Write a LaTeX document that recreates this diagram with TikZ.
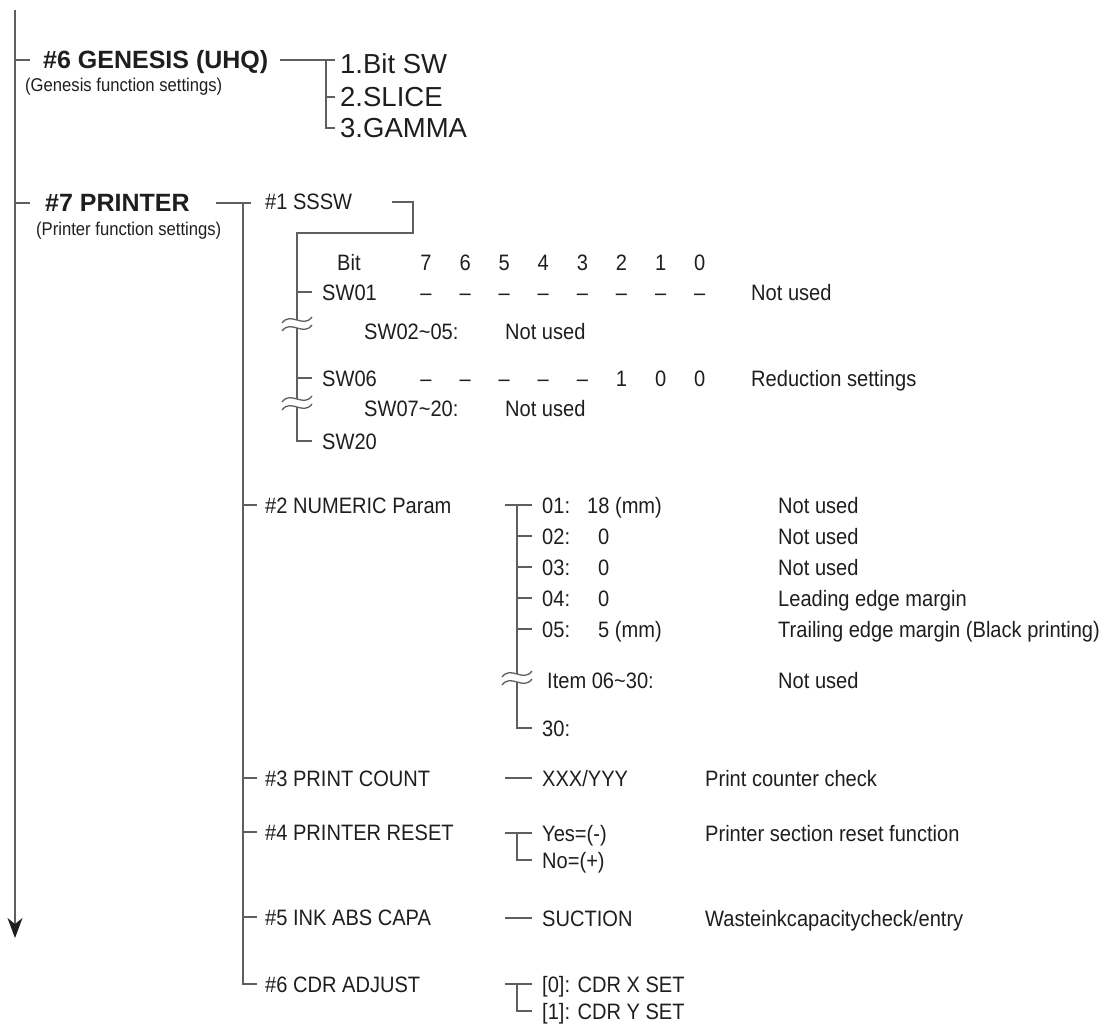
\documentclass[tikz,border=0pt]{standalone}
\usepackage{fontspec}
\usetikzlibrary{arrows.meta}
\newfontfamily\nar[FakeStretch=0.9]{Liberation Sans}
\newfontfamily\arl{Liberation Sans}
\definecolor{linec}{RGB}{95,95,95}
\definecolor{txtc}{RGB}{30,30,30}
\tikzset{
  ln/.style={draw=linec, line width=1.3pt},
  t/.style={inner sep=0pt, anchor=west, text=txtc, font=\nar\fontsize{22.3}{26}\selectfont, text height=16pt, text depth=0pt},
  tc/.style={t, anchor=center},
  sub/.style={t, font=\nar\fontsize{18.5}{22}\selectfont, text height=13.2pt},
  hd/.style={t, font=\arl\bfseries\fontsize{25}{30}\selectfont, text height=17.9pt},
  gi/.style={t, font=\arl\fontsize{27.5}{32}\selectfont, text height=19.7pt},
  brk/.pic={
    \draw[ln] (-15,-1) .. controls (-6,-13) and (6,5) .. (15,-7);
    \draw[ln] (-15,7) .. controls (-6,-5) and (6,13) .. (15,1);
  }
}
\begin{document}
\begin{tikzpicture}[x=1pt, y=-1pt]
\useasboundingbox (0,0) rectangle (1107,1032);

% main spine
\coordinate (top) at (15,10);
\coordinate (bot) at (15,938);
\draw[ln, -{Stealth[length=20pt,width=15pt,inset=6pt,color=txtc]}] (top) -- (bot);

% #6 GENESIS
\node[hd] (gen) at (43,60) {\#6 GENESIS (UHQ)};
\node[sub] (gens) at (25,85) {(Genesis function settings)};
\draw[ln] (top |- gen.west) -- ++(15,0);
\node[gi] (gi1) at (340,64) {1.Bit SW};
\node[gi] (gi2) at (340,97) {2.SLICE};
\node[gi] (gi3) at (340,128) {3.GAMMA};
\draw[ln] ([xshift=12pt]gen.east) -- ([xshift=-5pt]gen.east -| gi1.west);
\draw[ln] ([xshift=-14pt]gen.east -| gi1.west) |- ([xshift=-5pt]gi3.west);
\draw[ln] ([xshift=-14pt]gi2.west) -- ([xshift=-5pt]gi2.west);

% #7 PRINTER
\node[hd] (prn) at (45,203) {\#7 PRINTER};
\node[sub] (prns) at (36,229) {(Printer function settings)};
\draw[ln] (top |- prn.west) -- ++(15,0);

\node[t] (s1) at (265,202) {\#1 SSSW};
\node[t] (s2) at (265,505) {\#2 NUMERIC Param};
\node[t] (s3) at (265,778) {\#3 PRINT COUNT};
\node[t] (s4) at (265,832) {\#4 PRINTER RESET};
\node[t] (s5) at (265,917) {\#5 INK ABS CAPA};
\node[t] (s6) at (265,984) {\#6 CDR ADJUST};
\coordinate (ps) at (243,203);
\draw[ln] ([xshift=26pt]prn.east) -- ([xshift=-14pt]prn.east -| s1.west);
\draw[ln] (ps) |- ([xshift=-8pt]s6.west);
\foreach \s in {s2,s3,s4,s5}{\draw[ln] (ps |- \s.west) -- ([xshift=-8pt]\s.west);}

% #1 SSSW
\coordinate (k1) at (413,233);
\coordinate (sv) at (297,233);
\draw[ln] ([xshift=40pt]s1.east) -| (k1) -- (sv) -- (297,320);
\pic at (297,324) {brk};
\draw[ln] (297,328) -- (297,399);
\pic at (297,403) {brk};
\node[t] (bit) at (337,262) {Bit};
\foreach \v [count=\i from 0] in {7,6,5,4,3,2,1,0}{
  \node[tc] (b\v) at ({426+39.1*\i},262) {\v};
}
\node[t] (sw01) at (322,292) {SW01};
\foreach \v in {7,6,5,4,3,2,1,0}{\node[tc] (d1\v) at (b\v |- sw01.west) {–};}
\node[t] (nu1) at (751,292) {Not used};
\node[t] (sw25) at (364,331) {SW02\textasciitilde 05:};
\node[t] (nu2) at (505,331) {Not used};
\node[t] (sw06) at (322,378) {SW06};
\foreach \v in {7,6,5,4,3}{\node[tc] (d6\v) at (b\v |- sw06.west) {–};}
\node[tc] (v62) at (b2 |- sw06.west) {1};
\node[tc] (v61) at (b1 |- sw06.west) {0};
\node[tc] (v60) at (b0 |- sw06.west) {0};
\node[t] (red) at (751,378) {Reduction settings};
\node[t] (sw720) at (364,408) {SW07\textasciitilde 20:};
\node[t] (nu3) at (505,408) {Not used};
\node[t] (sw20) at (322,441) {SW20};
\draw[ln] (297,407) |- ([xshift=-10pt]sw20.west);
\draw[ln] (sv |- sw01.west) -- ([xshift=-10pt]sw01.west);
\draw[ln] (sv |- sw06.west) -- ([xshift=-10pt]sw06.west);

% #2 NUMERIC
\coordinate (nv) at (517,505);
\node[t] (n1) at (542,505) {01:};
\node[t] (v1) at (587,505) {18 (mm)};
\node[t] (e1) at (778,505) {Not used};
\node[t] (n2) at (542,536) {02:};
\node[t] (v2) at (598,536) {0};
\node[t] (e2) at (778,536) {Not used};
\node[t] (n3) at (542,567) {03:};
\node[t] (v3) at (598,567) {0};
\node[t] (e3) at (778,567) {Not used};
\node[t] (n4) at (542,598) {04:};
\node[t] (v4) at (598,598) {0};
\node[t] (e4) at (778,598) {Leading edge margin};
\node[t] (n5) at (542,629) {05:};
\node[t] (v5) at (598,629) {5 (mm)};
\node[t] (e5) at (778,629) {Trailing edge margin (Black printing)};
\node[t] (ni) at (547,680) {Item 06\textasciitilde 30:};
\node[t] (ei) at (778,680) {Not used};
\node[t] (n30) at (542,728) {30:};
\draw[ln] ([xshift=-12pt]nv) -- ([xshift=-10pt]n1.west);
\draw[ln] (nv) -- (517,674);
\pic at (517,678) {brk};
\draw[ln] (517,682) |- ([xshift=-10pt]n30.west);
\foreach \n in {n2,n3,n4,n5}{\draw[ln] (nv |- \n.west) -- ([xshift=-10pt]\n.west);}

% #3 PRINT COUNT
\node[t] (xy) at (542,778) {XXX/YYY};
\node[t] (pcc) at (705,778) {Print counter check};
\draw[ln] ([xshift=-37pt]xy.west) -- ([xshift=-10pt]xy.west);

% #4 PRINTER RESET
\node[t] (yes) at (542,833) {Yes=(-)};
\node[t] (no) at (542,860) {No=(+)};
\node[t] (psr) at (705,833) {Printer section reset function};
\draw[ln] ([xshift=-37pt]yes.west) -- ([xshift=-10pt]yes.west);
\draw[ln] ([xshift=-25pt]yes.west) |- ([xshift=-10pt]no.west);

% #5 INK ABS CAPA
\node[t] (suc) at (542,918) {SUCTION};
\node[t] (wic) at (705,918) {Wasteinkcapacitycheck/entry};
\draw[ln] ([xshift=-37pt]suc.west) -- ([xshift=-10pt]suc.west);

% #6 CDR ADJUST
\node[t] (cx) at (542,984) {[0]: CDR X SET};
\node[t] (cy) at (542,1011) {[1]: CDR Y SET};
\draw[ln] ([xshift=-37pt]cx.west) -- ([xshift=-10pt]cx.west);
\draw[ln] ([xshift=-25pt]cx.west) |- ([xshift=-10pt]cy.west);
\end{tikzpicture}
\end{document}
